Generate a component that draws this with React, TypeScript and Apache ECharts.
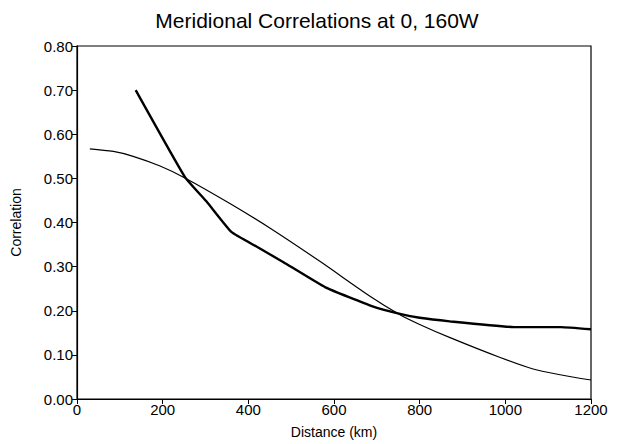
import React, { useEffect, useRef } from "react";
import * as echarts from "echarts";

const titleText = "Meridional Correlations at 0, 160W";
const xAxisName = "Distance (km)";
const yAxisName = "Correlation";

// Thick curve (distance km, correlation)
const thickX = [137, 252, 303, 361, 420, 482, 580, 690, 754, 800, 870, 1020, 1130, 1200];
const thickY = [0.70, 0.503, 0.447, 0.378, 0.345, 0.31, 0.253, 0.21, 0.193, 0.184, 0.176, 0.163, 0.163, 0.158];

// Thin curve
const thinX = [30, 85, 131, 194, 252, 357, 451, 567, 684, 754, 800, 871, 988, 1065, 1128, 1200];
const thinY = [0.567, 0.561, 0.55, 0.528, 0.501, 0.443, 0.387, 0.312, 0.233, 0.191, 0.169, 0.139, 0.094, 0.068, 0.055, 0.043];

const font = "'Liberation Sans', Arial, Helvetica, sans-serif";

export default function App() {
  const ref = useRef<HTMLDivElement>(null);
  useEffect(() => {
    document.body.style.margin = "0";
    if (!ref.current) return;
    const chart = echarts.init(ref.current, undefined, { renderer: "svg" });
    const zip = (xs: number[], ys: number[]) => xs.map((x, i) => [x, ys[i]]);
    chart.setOption({
      animation: false,
      backgroundColor: "#fff",
      title: {
        text: titleText,
        left: 312,
        textAlign: "center",
        top: 5,
        textStyle: { fontFamily: font, fontSize: 21, fontWeight: "normal", color: "#000" },
      },
      grid: {
        left: 77,
        right: 30,
        top: 46,
        bottom: 42,
        show: true,
        borderColor: "#000",
        borderWidth: 1.2,
        backgroundColor: "transparent",
      },
      xAxis: {
        type: "value",
        min: 0,
        max: 1200,
        interval: 200,
        name: xAxisName,
        nameLocation: "middle",
        nameGap: 26,
        nameTextStyle: { fontFamily: font, fontSize: 14, color: "#000" },
        axisLine: { show: true, lineStyle: { color: "#000", width: 1.2 } },
        axisTick: { show: true, length: 5, lineStyle: { color: "#000" } },
        axisLabel: {
          fontFamily: font,
          fontSize: 15,
          color: "#000",
          margin: 3,
          formatter: (v: number) => String(v),
        },
        splitLine: { show: false },
      },
      yAxis: {
        type: "value",
        min: 0,
        max: 0.8,
        interval: 0.1,
        name: yAxisName,
        nameLocation: "middle",
        nameGap: 54,
        nameTextStyle: { fontFamily: font, fontSize: 14, color: "#000" },
        axisLine: { show: true, lineStyle: { color: "#000", width: 1.2 } },
        axisTick: { show: true, length: 5, lineStyle: { color: "#000" } },
        axisLabel: {
          fontFamily: font,
          fontSize: 15,
          color: "#000",
          margin: 4,
          formatter: (v: number) => v.toFixed(2),
        },
        splitLine: { show: false },
      },
      series: [
        {
          type: "line",
          data: zip(thickX, thickY),
          showSymbol: false,
          smooth: 0.12,
          lineStyle: { color: "#000", width: 2.4 },
        },
        {
          type: "line",
          data: zip(thinX, thinY),
          showSymbol: false,
          smooth: 0.3,
          lineStyle: { color: "#000", width: 1.2 },
        },
      ],
    });
    return () => chart.dispose();
  }, []);
  return <div ref={ref} style={{ width: 621, height: 444 }} />;
}
